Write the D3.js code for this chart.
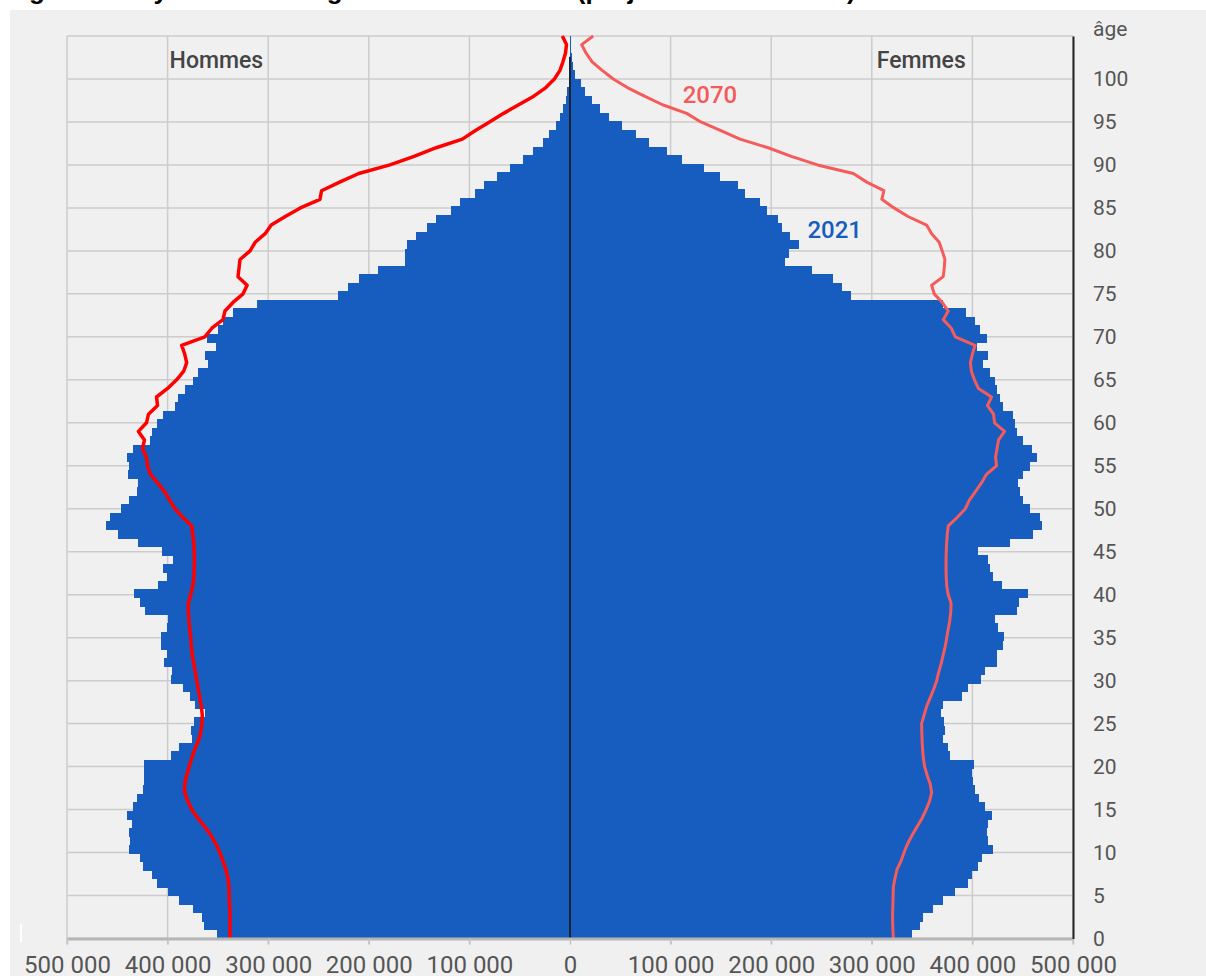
<!DOCTYPE html>
<html>
<head>
<meta charset="utf-8">
<script src="https://cdn.jsdelivr.net/npm/d3@7"></script>
<style>
  body { margin: 0; background: #fff; }
  text { font-family: Roboto, "Open Sans", sans-serif; }
</style>
</head>
<body>
<div id="pyramid"></div>
<script>
// Population by single year of age, in thousands (index = age 0..105)
const ages = d3.range(0, 106);

const hommes2021 = [
  351, 364, 366, 374.4, 388.7, 399.9, 410.9, 415.2, 424.1, 427.4,
  438.1, 437.4, 438.1, 435.8, 440.8, 434.2, 430.8, 424.1, 423.1, 423.1,
  423.1, 396.6, 388.7, 376.1, 376.8, 373.5, 362.8, 372.8, 377.8, 384.4,
  396.6, 396.0, 403.3, 401.0, 406.6, 406.6, 401.0, 399.9, 422.5, 427.4,
  433.1, 409.2, 400.9, 404.2, 394.3, 405.9, 429.1, 449.0, 461.6, 457.3,
  446.3, 438.1, 430.8, 429.8, 439.0, 438.1, 440.7, 434.1, 417.5, 415.8,
  410.9, 404.2, 392.6, 389.3, 382.7, 374.4, 369.5, 360.2, 362.8, 352.2,
  361.2, 350.2, 344.6, 334.7, 311.5, 230.3, 220.4, 209.4, 190.5, 164.0,
  164.0, 162.4, 153.1, 142.5, 133.2, 118.6, 109.3, 94.4, 85.5, 72.2,
  59.6, 46.4, 36.4, 27.2, 20.5, 14.3, 9.9, 6.6, 4.0, 2.7,
  1.3, 0.8, 0.5, 0.3, 0.2, 0.1
];

const femmes2021 = [
  339.6, 347.9, 351.2, 360.5, 371.1, 382.7, 396.0, 399.3, 405.9, 409.2,
  420.2, 415.8, 414.8, 415.8, 419.2, 412.5, 406.9, 402.6, 400.9, 399.3,
  401.9, 377.7, 376.1, 370.5, 372.8, 371.8, 368.8, 370.5, 389.3, 396.0,
  408.2, 412.5, 424.1, 424.1, 430.8, 431.4, 425.8, 422.5, 444.7, 446.6,
  455.6, 429.1, 420.8, 417.5, 415.8, 405.9, 437.4, 460.6, 468.9, 467.2,
  457.3, 450.6, 447.3, 445.7, 450.6, 457.3, 463.9, 458.9, 450.6, 444.0,
  442.3, 440.7, 430.8, 427.4, 424.1, 422.5, 417.5, 410.9, 415.8, 404.2,
  414.2, 407.6, 402.6, 393.6, 371.1, 279.0, 270.1, 261.1, 240.9, 213.7,
  218.0, 228.0, 218.7, 210.4, 207.1, 195.5, 188.9, 174.0, 167.3, 149.1,
  133.2, 111.0, 96.1, 78.9, 65.6, 52.0, 39.1, 29.8, 21.5, 14.9,
  10.6, 5.0, 3.3, 1.7, 1.0, 0.5
];

const hommes2070 = [
  338, 338, 338, 338, 338.5, 338.8, 339, 340, 342, 345,
  348, 352, 357, 363, 370, 376, 380, 383, 383, 381,
  378.5, 376, 373, 369.5, 367, 366, 365.5, 366.5, 368, 369.5,
  371, 372.5, 374, 375.5, 376.5, 377, 378, 378.8, 379.3, 379.4,
  377, 375, 374, 373.5, 373.4, 373.5, 374, 375, 376, 385,
  392.6, 398, 403, 410, 417, 420, 421, 425, 423, 429,
  421, 419, 410, 411, 400, 391, 384, 381, 383, 386,
  363, 356, 345, 343, 335, 325, 321, 330, 329, 328,
  318, 313, 303, 297, 283, 268, 248.5, 247, 229, 210,
  179, 155, 133, 107, 94, 80, 66, 51, 36, 24,
  15.5, 10, 7, 4.5, 3.5, 7.6
];

const femmes2070 = [
  321.4, 321, 320.7, 320.7, 321, 321.2, 321.4, 323, 325, 329,
  332, 335.5, 340, 345, 350, 354, 357.5, 359.5, 358, 355,
  352.5, 351.2, 350.5, 350, 349.7, 349.5, 352, 354.5, 358, 361.5,
  364.5, 366.5, 369, 371, 373, 374.5, 376, 377.5, 378.5, 378.8,
  376, 374.5, 374, 373.8, 373.8, 374, 374.4, 375, 376, 385,
  393, 397, 403, 409, 414, 424, 423, 424.5, 426, 432,
  422, 421, 415, 419, 406, 402, 399, 398, 400, 402.6,
  383, 379, 371, 376, 370, 362, 359.5, 371, 372, 372.7,
  370, 367, 359.5, 354.5, 336, 322, 310, 312, 295, 281.6,
  246, 220, 197, 169, 150, 130, 116, 92, 74, 57,
  43, 32, 22, 16, 11.6, 23
];

const ageTicks = [0, 5, 10, 15, 20, 25, 30, 35, 40, 45, 50, 55, 60, 65, 70, 75, 80, 85, 90, 95, 100];
const ageGrid = [0, 5, 10, 15, 20, 25, 30, 35, 40, 45, 50, 55, 60, 65, 70, 75, 80, 85, 90, 95, 100, 105];
const popTicks = [-500, -400, -300, -200, -100, 0, 100, 200, 300, 400, 500];

const W = 1206, H = 976;
const margin = { top: 36, right: 133, bottom: 37.5, left: 67 };
const width = W - margin.left - margin.right;
const height = H - margin.top - margin.bottom;

const blue = "#175cbf";

const svg = d3.select("#pyramid")
  .append("svg")
  .attr("width", W)
  .attr("height", H);

// grey panel behind everything
svg.append("rect")
  .attr("x", 10).attr("y", 10)
  .attr("width", W - 10).attr("height", H - 10)
  .attr("fill", "#f0f0f0");

// title, cut off by the top edge of the picture (only descenders show)
svg.append("text")
  .attr("x", 6)
  .attr("y", -1.5)
  .style("font-family", "'Liberation Sans', Arial, sans-serif")
  .attr("font-size", "26px")
  .attr("font-weight", "bold")
  .attr("fill", "#000")
  .text("Figure 1 – Pyramide des âges en 2021 et 2070 (projections centrales)");

svg.append("rect")
  .attr("x", 20).attr("y", 924)
  .attr("width", 2).attr("height", 18)
  .attr("fill", "#fff");

const g = svg.append("g")
  .attr("transform", `translate(${margin.left},${margin.top})`);

const x = d3.scaleLinear().domain([-500, 500]).range([0, width]);
const y = d3.scaleLinear().domain([0, 105]).range([height, 0]);
const yBand = d3.scaleBand().domain(ages).range([height, 0]);

// grid
g.append("g")
  .selectAll("line")
  .data(popTicks.filter(d => d !== 0))
  .join("line")
  .attr("x1", d => x(d)).attr("x2", d => x(d))
  .attr("y1", 0).attr("y2", height + 6)
  .attr("stroke", "#cccccc")
  .attr("stroke-width", 1.5);

g.append("g")
  .selectAll("line")
  .data(ageGrid)
  .join("line")
  .attr("x1", 0).attr("x2", width)
  .attr("y1", d => y(d)).attr("y2", d => y(d))
  .attr("stroke", "#cccccc")
  .attr("stroke-width", 1.5);

// 2021 bars
g.append("g")
  .selectAll("rect")
  .data(hommes2021)
  .join("rect")
  .attr("x", d => x(-d))
  .attr("width", d => x(0) - x(-d))
  .attr("y", (d, i) => yBand(ages[i]))
  .attr("height", yBand.bandwidth() + 0.5)
  .attr("fill", blue)
  .attr("shape-rendering", "crispEdges");

g.append("g")
  .selectAll("rect")
  .data(femmes2021)
  .join("rect")
  .attr("x", x(0))
  .attr("width", d => x(d) - x(0))
  .attr("y", (d, i) => yBand(ages[i]))
  .attr("height", yBand.bandwidth() + 0.5)
  .attr("fill", blue)
  .attr("shape-rendering", "crispEdges");

// zero line
g.append("line")
  .attr("x1", x(0)).attr("x2", x(0))
  .attr("y1", y(102.6)).attr("y2", height)
  .attr("stroke", "#1c2434")
  .attr("stroke-width", 2);

// 2070 lines
const lineH = d3.line()
  .x(d => x(-d))
  .y((d, i) => y(ages[i]));
const lineF = d3.line()
  .x(d => x(d))
  .y((d, i) => y(ages[i]));

g.append("path")
  .datum(hommes2070)
  .attr("fill", "none")
  .attr("stroke", "#ff0000")
  .attr("stroke-width", 3.5)
  .attr("stroke-linejoin", "round")
  .attr("d", lineH);

g.append("path")
  .datum(femmes2070)
  .attr("fill", "none")
  .attr("stroke", "#f65b5b")
  .attr("stroke-width", 3)
  .attr("stroke-linejoin", "round")
  .attr("d", lineF);

// bottom axis
const fr = d3.formatLocale({ decimal: ",", thousands: " ", grouping: [3], currency: ["", " €"] });
const fmt = fr.format(",d");

const xAxis = g.append("g")
  .attr("transform", `translate(0,${height})`)
  .call(d3.axisBottom(x)
    .tickValues(popTicks)
    .tickSize(6)
    .tickSizeOuter(0)
    .tickPadding(11)
    .tickFormat(d => fmt(Math.abs(d) * 1000)));
xAxis.select(".domain").attr("stroke", "#b5b5b5").attr("stroke-width", 3);
xAxis.selectAll(".tick line").attr("stroke", "#c4c4c4").attr("stroke-width", 1.5);
xAxis.selectAll("text")
  .attr("font-size", "24px")
  .attr("fill", "#555")
  .style("font-family", "Roboto, sans-serif");

// age axis on the right
const yAxis = g.append("g")
  .attr("transform", `translate(${width},0)`)
  .call(d3.axisRight(y)
    .tickValues(ageTicks)
    .tickSize(0)
    .tickSizeOuter(0)
    .tickPadding(20));
yAxis.select(".domain").attr("stroke", "#222").attr("stroke-width", 2);
yAxis.selectAll("text")
  .attr("font-size", "21px")
  .attr("fill", "#555")
  .style("font-family", "Roboto, sans-serif");

g.append("text")
  .attr("x", width + 20)
  .attr("y", -0.5)
  .attr("font-size", "21px")
  .attr("fill", "#555")
  .text("âge");

// labels
g.append("text")
  .attr("x", x(-400) + 2)
  .attr("y", 24)
  .attr("dy", "0.35em")
  .attr("font-size", "23px")
  .attr("font-weight", 500)
  .attr("fill", "#444")
  .text("Hommes");

g.append("text")
  .attr("x", x(300) + 5)
  .attr("y", 24)
  .attr("dy", "0.35em")
  .attr("font-size", "23px")
  .attr("font-weight", 500)
  .attr("fill", "#444")
  .text("Femmes");

g.append("text")
  .attr("x", x(112))
  .attr("y", y(98.2))
  .attr("dy", "0.35em")
  .attr("font-size", "24px")
  .attr("font-weight", 500)
  .attr("fill", "#f35b5b")
  .text("2070");

g.append("text")
  .attr("x", x(236))
  .attr("y", y(82.5))
  .attr("dy", "0.35em")
  .attr("font-size", "24px")
  .attr("font-weight", 500)
  .attr("fill", blue)
  .text("2021");
</script>
</body>
</html>
